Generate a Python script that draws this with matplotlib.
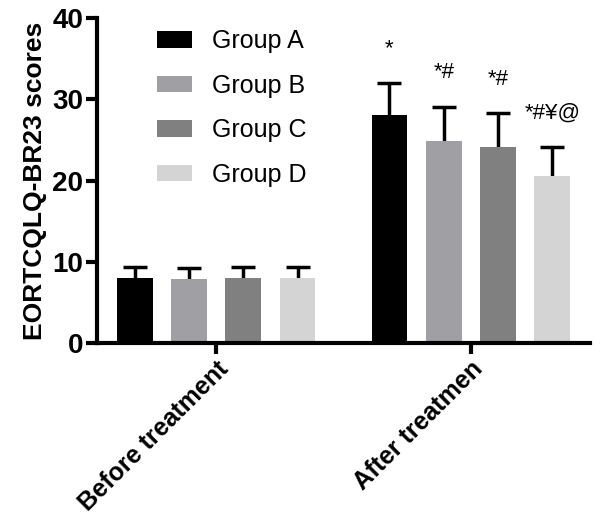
import matplotlib
matplotlib.use("Agg")
import matplotlib.pyplot as plt
import numpy as np

plt.rcParams['font.family'] = ['Liberation Sans', 'DejaVu Sans']

# data
timepoints = ['Before treatment', 'After treatmen']
groups = ['Group A', 'Group B', 'Group C', 'Group D']
colors = ['#000000', '#a0a0a4', '#808080', '#d4d4d4']
means = {
    'Group A': [8.0, 28.1],
    'Group B': [7.9, 24.9],
    'Group C': [8.0, 24.1],
    'Group D': [8.0, 20.6],
}
sds = {
    'Group A': [1.4, 3.9],
    'Group B': [1.3, 4.2],
    'Group C': [1.4, 4.2],
    'Group D': [1.3, 3.5],
}
# significance marks over the "after" bars
marks = ['*', '*#', '*#', '*#\u00a5@']

fig = plt.figure(figsize=(6.0, 5.18), dpi=100)
ax = fig.add_axes([0.162, 0.338, 0.821, 0.627])

x = np.arange(len(timepoints))
step = 0.213
width = 0.141
for i, g in enumerate(groups):
    pos = x + (i - 1.5) * step
    ax.bar(pos, means[g], width, color=colors[i], label=g, zorder=2)
    _, caps, _ = ax.errorbar(pos, means[g], yerr=[np.zeros(len(x)), sds[g]], fmt='none',
                             ecolor='black', elinewidth=2.5, capsize=8.5, capthick=2.5,
                             zorder=1)
    caps[0].set_visible(False)  # only the upper whisker is shown
    top = means[g][1] + sds[g][1]
    ax.text(pos[1], top + 4.2, marks[i], ha='center', va='center', fontsize=16)

ax.set_ylim(0, 40)
ax.set_xlim(-0.467, 1.467)
ax.set_yticks([0, 10, 20, 30, 40])
ax.set_xticks(x)
ax.set_xticklabels(timepoints, rotation=45, ha='right', rotation_mode='anchor',
                   fontsize=18, fontweight='bold')
for lbl in ax.get_yticklabels():
    lbl.set_fontsize(20)
    lbl.set_fontweight('bold')
ax.set_ylabel('EORTCQLQ-BR23 scores', fontsize=19, fontweight='bold', labelpad=4)

for side in ['top', 'right']:
    ax.spines[side].set_visible(False)
for side in ['left', 'bottom']:
    ax.spines[side].set_linewidth(3)
ax.tick_params(width=3, length=8, pad=2)

ax.legend(loc='upper left', bbox_to_anchor=(0.075, 1.035), frameon=False, fontsize=18,
          handlelength=1.4, handleheight=0.65, handletextpad=0.8, labelspacing=0.82)

fig.savefig('out.png', dpi=100)
